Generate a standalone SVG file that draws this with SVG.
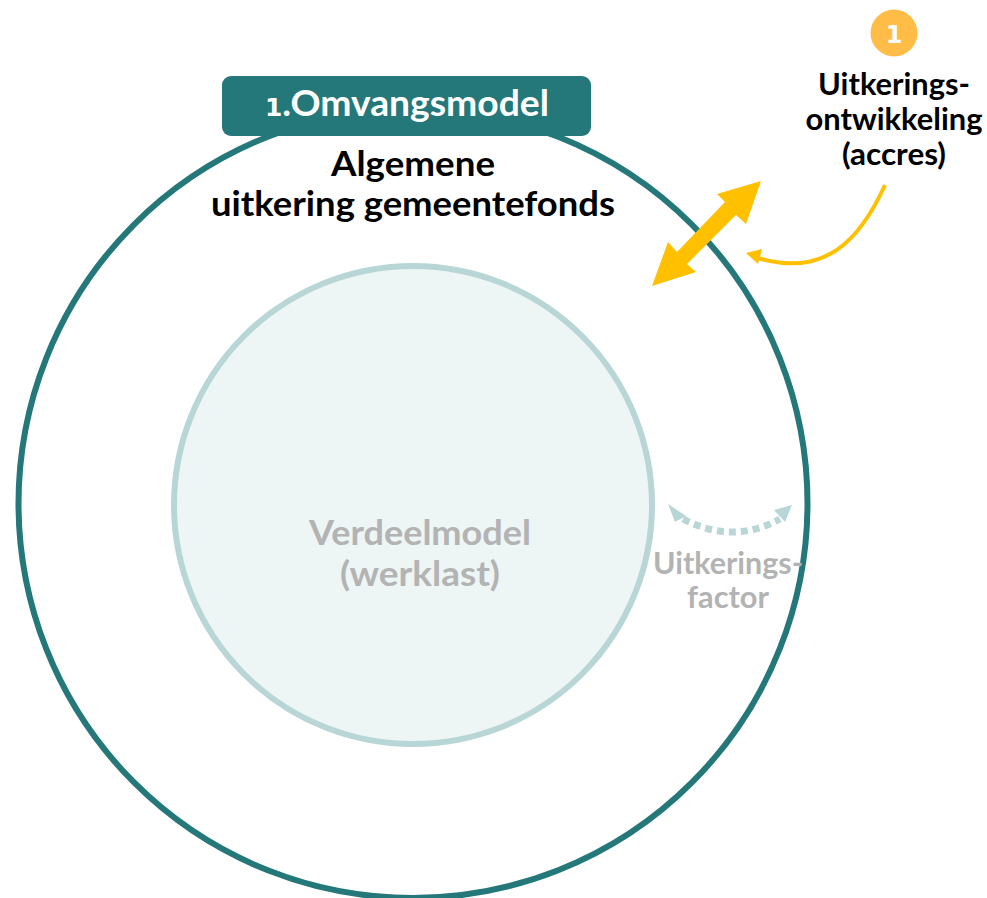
<svg xmlns="http://www.w3.org/2000/svg" width="987" height="898" viewBox="0 0 987 898">
<style>
text{font-family:"Lato","Open Sans","Liberation Sans",sans-serif;font-weight:700;text-anchor:middle}
.k{fill:#000;font-size:30px}
.g{fill:#b3b3b3;font-size:34px}
.n{font-family:"DejaVu Sans",sans-serif;font-weight:700}
</style>
<rect width="987" height="898" fill="#fff"/>
<g id="outer-circle"><circle cx="413" cy="503.500" r="394.500" fill="#fff" stroke="#24787a" stroke-width="6"/></g>
<g id="inner-circle"><circle cx="413" cy="505" r="239" fill="#edf5f5" stroke="#b9d6d7" stroke-width="6"/>
<text class="g" x="420" y="545" textLength="222" lengthAdjust="spacingAndGlyphs">Verdeelmodel</text>
<text class="g" x="420" y="586" textLength="160" lengthAdjust="spacingAndGlyphs">(werklast)</text></g>
<g id="omvangsmodel"><rect x="222" y="76" width="369" height="60" rx="9" fill="#24787a"/>
<text x="407" y="116" fill="#fff" style="font-size:36px" textLength="284" lengthAdjust="spacingAndGlyphs"><tspan class="n" style="font-size:24px">1</tspan>.Omvangsmodel</text></g>
<g id="algemene-uitkering">
<text class="k" x="413" y="176" style="font-size:34px" textLength="164" lengthAdjust="spacingAndGlyphs">Algemene</text>
<text class="k" x="413" y="216" style="font-size:34px" textLength="404" lengthAdjust="spacingAndGlyphs">uitkering gemeentefonds</text></g>
<g id="badge-1"><circle cx="894" cy="33" r="23.500" fill="#ffbd47"/>
<text class="n" x="894" y="43" fill="#fff" style="font-size:24px">1</text></g>
<g id="uitkeringsontwikkeling">
<text class="k" x="894" y="95" textLength="152" lengthAdjust="spacingAndGlyphs">Uitkerings-</text>
<text class="k" x="894" y="130" textLength="177" lengthAdjust="spacingAndGlyphs">ontwikkeling</text>
<text class="k" x="894" y="165" textLength="104" lengthAdjust="spacingAndGlyphs">(accres)</text></g>
<g id="uitkeringsfactor">
<text class="g" x="728" y="574" style="font-size:30px" textLength="150" lengthAdjust="spacingAndGlyphs">Uitkerings-</text>
<text class="g" x="728" y="608" style="font-size:30px" textLength="82" lengthAdjust="spacingAndGlyphs">factor</text></g>
<g id="connectors">
<polygon fill="#ffc000" points="761,181 717,194 725,202 677,252 668,242 652,286 696,272 687,264 736,215 746,224"/>
<path d="M885,185C860,240 825,278 758,258" fill="none" stroke="#ffc000" stroke-width="4"/>
<polygon fill="#ffc000" points="746,253 762,249 758,264"/>
<path d="M683,519Q733,545 780,519" fill="none" stroke="#b9d6d7" stroke-width="7" stroke-dasharray="7 5"/>
<polygon fill="#b9d6d7" points="668,504 686,516 675,522"/>
<polygon fill="#b9d6d7" points="792,505 774,510 785,522"/>
</g>
</svg>
